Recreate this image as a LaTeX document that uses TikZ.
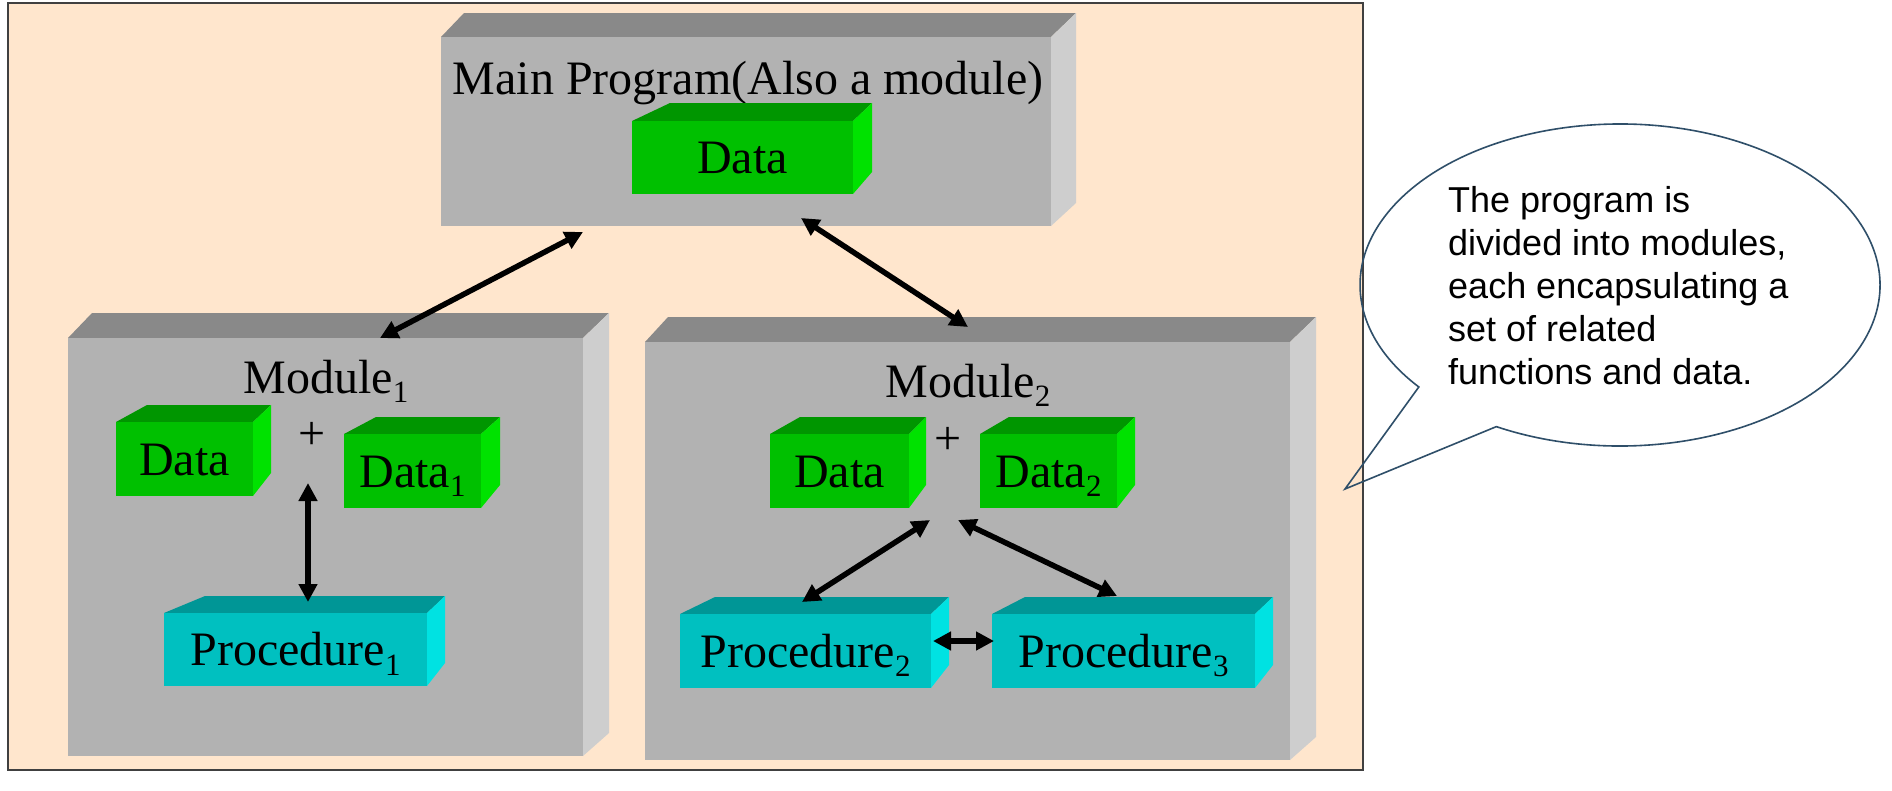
\documentclass[tikz,border=0pt]{standalone}
\usepackage{fontspec}
\setmainfont{Liberation Serif}
\newfontfamily\calloutfont{Liberation Sans}
\usetikzlibrary{arrows.meta,calc}

\definecolor{peach}{RGB}{255,230,205}
\definecolor{framecol}{RGB}{64,64,64}
\definecolor{gfront}{RGB}{178,178,178}
\definecolor{gtop}{RGB}{137,137,137}
\definecolor{gside}{RGB}{206,206,206}
\definecolor{dfront}{RGB}{0,192,0}
\definecolor{dtop}{RGB}{0,150,0}
\definecolor{dside}{RGB}{0,226,0}
\definecolor{pfront}{RGB}{0,192,192}
\definecolor{ptop}{RGB}{0,150,150}
\definecolor{pside}{RGB}{0,226,226}
\definecolor{callline}{RGB}{47,79,105}

\newcommand\lowsub[1]{\raisebox{-0.2em}{\fontsize{31}{31}\selectfont #1}}

% depth of top face (\cdy) and rise of side bottom (\cdb)
\def\cdy{17}
\def\cdb{23}
% \cubebox{name}{x1}{y1}{x2}{y2}{dl}{dr}{palette}{text}
\newcommand\cubebox[9]{%
  \fill[#8top] (#2,#3) -- (#2+#6,#3-\cdy) -- (#4+#7,#3-\cdy) -- (#4,#3) -- cycle;
  \fill[#8side] (#4,#3) -- (#4+#7,#3-\cdy) -- (#4+#7,#5-\cdb) -- (#4,#5) -- cycle;
  \node[facebox, fill=#8front, anchor=north west,
        minimum width={(#4-#2)*1pt}, minimum height={(#5-#3)*1pt}] (#1) at (#2,#3) {#9};
}

\tikzset{
  facebox/.style={inner sep=0pt, outer sep=0pt, font=\fontsize{48}{58}\selectfont,
                  text height=32pt, text depth=0pt},
  bigtext/.style={inner sep=0pt, font=\fontsize{48}{58}\selectfont},
  biarrow/.style={line width=5.5pt,
                  {Triangle[length=18pt,width=18pt]}-{Triangle[length=18pt,width=18pt]}},
  callout/.style={draw=callline, line width=1.6pt, line join=miter},
}

\begin{document}
\begin{tikzpicture}[x=1pt,y=-1pt]
\useasboundingbox (0,0) rectangle (1892,790);
\fill[white] (0,0) rectangle (1892,790);

% outer frame
\filldraw[fill=peach, draw=framecol, line width=2.5pt] (8,3) rectangle (1363,770);

% big boxes
\def\cdy{24}\def\cdb{23}
\cubebox{main}{441}{37}{1051}{226}{23}{25}{g}{}
\def\cdy{25}\def\cdb{23}
\cubebox{modA}{68}{338}{583}{756}{24}{26}{g}{}
\cubebox{modB}{645}{342}{1290}{760}{23}{26}{g}{}

\node[bigtext, anchor=base] (mainlabel) at (748,94) {Main Program(Also a module)};
\node[bigtext, anchor=base] (modAlabel) at (326,393) {Module\lowsub{1}};
\node[bigtext, anchor=base] (modBlabel) at (968,397) {Module\lowsub{2}};

% small boxes
\def\cdy{18}\def\cdb{22}
\cubebox{mdata}{632}{121}{853}{194}{38}{19}{d}{Data}
\def\cdy{17}\def\cdb{23}
\cubebox{adata}{116}{422}{253}{496}{31}{18}{d}{Data}
\cubebox{adata1}{344}{434}{481}{508}{32}{19}{d}{Data\lowsub{1}}
\cubebox{aproc1}{164}{613}{427}{686}{41}{18}{p}{Procedure\lowsub{1}}
\cubebox{bdata}{770}{434}{909}{508}{30}{17}{d}{Data}
\cubebox{bdata2}{980}{434}{1117}{508}{29}{18}{d}{Data\lowsub{2}}
\cubebox{bproc2}{680}{614}{931}{688}{35}{18}{p}{Procedure\lowsub{2}}
\cubebox{bproc3}{992}{614}{1255}{688}{33}{18}{p}{Procedure\lowsub{3}}

\node[bigtext] (plusA) at (312,436) {+};
\node[bigtext] (plusB) at (948,441) {+};

% connector ends
\coordinate (mA) at (583,232);
\coordinate (Am) at (380,338);
\coordinate (mB) at (801,218);
\coordinate (Bm) at (968,327);
\coordinate (Ad) at (308,483);
\coordinate (Ap) at (308,602);
\coordinate (Bd1) at (930,520);
\coordinate (Bp2) at (802,602);
\coordinate (Bd2) at (958,520);
\coordinate (Bp3) at (1117,596);
\coordinate (p2r) at (933,641);
\coordinate (p3l) at (994,641);

\draw[biarrow] (mA) -- (Am);
\draw[biarrow] (mB) -- (Bm);
\draw[biarrow] (Ad) -- (Ap);
\draw[biarrow] (Bd1) -- (Bp2);
\draw[biarrow] (Bd2) -- (Bp3);
\draw[biarrow] (p2r) -- (p3l);

% callout
\coordinate (ce) at (1620,285);
\coordinate (tip) at (1345,489);
\draw[callout] ($(ce)+(219.3:260pt and 161pt)$) -- (tip)
   -- ($(ce)+(241.6:260pt and 161pt)$)
   arc[start angle=241.6, end angle=579.3, x radius=260pt, y radius=161pt] -- cycle;
\node[anchor=north west, align=left, inner sep=0pt,
      font=\calloutfont\fontsize{36}{43}\selectfont] (note) at (1448,186)
  {The program is\\divided into modules,\\each encapsulating a\\set of related\\functions and data.};
\end{tikzpicture}
\end{document}
